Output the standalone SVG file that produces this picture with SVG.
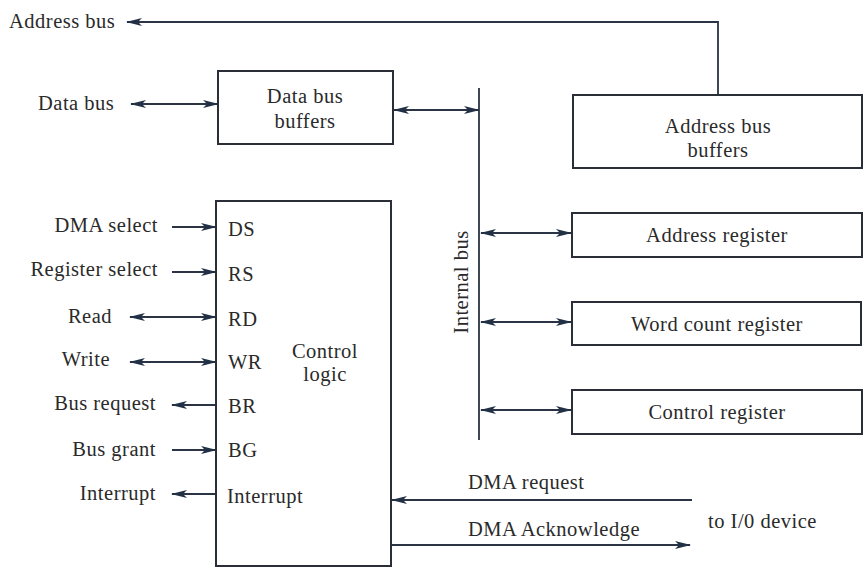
<svg xmlns="http://www.w3.org/2000/svg" width="864" height="568" viewBox="0 0 864 568">
<defs>
<style>
text{font-family:"Liberation Serif","Times New Roman",serif;font-size:20.5px;letter-spacing:0.5px;fill:#2a2a2a}
.m{text-anchor:middle}
.e{text-anchor:end}
.box{fill:none;stroke:#2a2e36;stroke-width:2}
.ln{fill:none;stroke:#2a3444;stroke-width:1.8}
</style>
<marker id="ah" viewBox="0 0 16 8" refX="15" refY="4" markerWidth="16" markerHeight="8" markerUnits="userSpaceOnUse" orient="auto-start-reverse">
<path d="M0,0 L16,4 L0,8 L4,4 Z" fill="#223045"/>
</marker>
</defs>
<rect width="864" height="568" fill="#ffffff"/>

<g id="connectors">
<path class="ln" d="M718,94 V22 H127" marker-end="url(#ah)"/>
<path class="ln" d="M131,104 H218" marker-start="url(#ah)" marker-end="url(#ah)"/>
<path class="ln" d="M394,110 H479" marker-start="url(#ah)" marker-end="url(#ah)"/>
<path class="ln" d="M479,88 V440"/>
<path class="ln" d="M481,233 H571" marker-start="url(#ah)" marker-end="url(#ah)"/>
<path class="ln" d="M481,322 H571" marker-start="url(#ah)" marker-end="url(#ah)"/>
<path class="ln" d="M481,410 H571" marker-start="url(#ah)" marker-end="url(#ah)"/>
<path class="ln" d="M172,227 H216" marker-end="url(#ah)"/>
<path class="ln" d="M172,272 H216" marker-end="url(#ah)"/>
<path class="ln" d="M130,317 H216" marker-start="url(#ah)" marker-end="url(#ah)"/>
<path class="ln" d="M130,362 H216" marker-start="url(#ah)" marker-end="url(#ah)"/>
<path class="ln" d="M216,405 H172" marker-end="url(#ah)"/>
<path class="ln" d="M172,450 H216" marker-end="url(#ah)"/>
<path class="ln" d="M216,494 H172" marker-end="url(#ah)"/>
<path class="ln" d="M692,500 H392" marker-end="url(#ah)"/>
<path class="ln" d="M392,545 H690" marker-end="url(#ah)"/>
</g>

<g id="labels">
<text x="9" y="28">Address bus</text>
<text x="38" y="110">Data bus</text>
<text class="e" x="158" y="232">DMA select</text>
<text class="e" x="158" y="276">Register select</text>
<text class="e" x="112" y="323">Read</text>
<text class="e" x="110" y="366">Write</text>
<text class="e" x="156" y="410">Bus request</text>
<text class="e" x="156" y="456">Bus grant</text>
<text class="e" x="156" y="500">Interrupt</text>
<text x="468" y="489">DMA request</text>
<text x="468" y="536">DMA Acknowledge</text>
<text x="708" y="528">to I/0 device</text>
<text class="m" transform="translate(468,282) rotate(-90)">Internal bus</text>
</g>

<g id="data-bus-buffers">
<rect class="box" x="218" y="71" width="175" height="73"/>
<text class="m" x="305" y="103">Data bus</text>
<text class="m" x="305" y="128">buffers</text>
</g>

<g id="address-bus-buffers">
<rect class="box" x="573" y="95" width="289" height="73"/>
<text class="m" x="718" y="133">Address bus</text>
<text class="m" x="718" y="157">buffers</text>
</g>

<g id="address-register">
<rect class="box" x="572" y="213" width="290" height="44"/>
<text class="m" x="717" y="242">Address register</text>
</g>

<g id="word-count-register">
<rect class="box" x="572" y="302" width="289" height="43"/>
<text class="m" x="717" y="331">Word count register</text>
</g>

<g id="control-register">
<rect class="box" x="572" y="390" width="290" height="44"/>
<text class="m" x="717" y="419">Control register</text>
</g>

<g id="control-logic">
<rect class="box" x="216" y="201" width="175" height="365"/>
<text x="228" y="236">DS</text>
<text x="228" y="281">RS</text>
<text x="228" y="326">RD</text>
<text x="228" y="369">WR</text>
<text x="228" y="413">BR</text>
<text x="228" y="457">BG</text>
<text x="227" y="503">Interrupt</text>
<text class="m" x="325" y="358">Control</text>
<text class="m" x="325" y="381">logic</text>
</g>
</svg>
